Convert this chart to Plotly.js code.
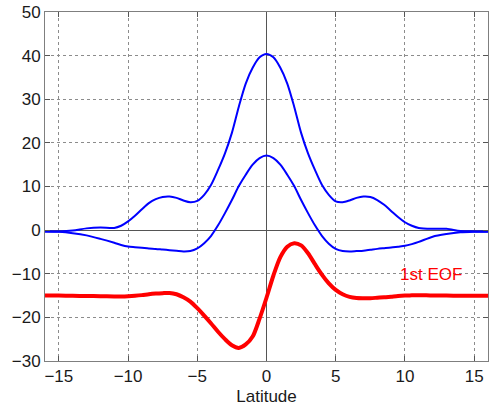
<!DOCTYPE html>
<html>
<head>
<meta charset="utf-8">
<script src="https://cdn.plot.ly/plotly-3.0.1.min.js"></script>
<style>html,body{margin:0;padding:0;background:#fff;}#chart{width:489px;height:406px;}</style>
</head>
<body>
<div id="chart"></div>
<script>
// Latitude samples
const latitude = [-16,-15,-14,-13,-12,-11,-10.5,-10,-9.5,-9,-8.5,-8,-7.5,-7,-6.5,-6,-5.5,-5,-4.5,-4,-3.5,-3,-2.5,-2,-1.5,-1,-0.5,0,
                  0.5,1,1.5,2,2.5,3,3.5,4,4.5,5,5.5,6,6.5,7,7.5,8,8.5,9,9.5,10,10.5,11,12,13,14,15,16];

// Upper blue curve
const upperBlue = [-0.3,-0.3,-0.1,0.4,0.6,0.5,1.0,2.0,3.3,4.8,6.2,7.1,7.6,7.7,7.4,6.8,6.4,6.7,8.1,10.4,13.8,17.6,22.3,28.3,33.6,37.2,39.6,40.4,
                   39.6,37.2,33.6,28.3,22.3,17.6,13.8,10.4,8.1,6.6,6.4,6.8,7.4,7.7,7.6,6.9,5.8,4.4,3.0,1.8,1.0,0.5,0.3,0.3,-0.2,-0.3,-0.35];

// Lower blue curve
const lowerBlue = [-0.3,-0.4,-0.7,-1.2,-2.0,-2.9,-3.4,-3.75,-3.9,-4.05,-4.2,-4.3,-4.45,-4.6,-4.75,-4.9,-4.8,-4.2,-3.0,-1.3,1.1,3.9,6.9,10.1,12.7,15.0,16.5,17.1,
                   16.5,15.0,12.7,10.1,6.9,3.9,1.1,-1.3,-3.1,-4.3,-4.8,-4.9,-4.8,-4.7,-4.5,-4.3,-4.15,-4.0,-3.8,-3.6,-3.2,-2.7,-1.5,-0.9,-0.5,-0.35,-0.3];

// First EOF (red)
const firstEOF = [-15.0,-15.0,-15.05,-15.1,-15.15,-15.2,-15.2,-15.15,-15.05,-14.9,-14.7,-14.55,-14.45,-14.4,-14.7,-15.4,-16.4,-17.9,-19.6,-21.4,-23.3,-25.0,-26.4,-27.0,-26.2,-24.4,-20.3,-15.5,
                  -10.4,-6.2,-3.8,-3.0,-3.5,-5.3,-7.8,-10.2,-12.2,-13.7,-14.7,-15.3,-15.55,-15.6,-15.6,-15.5,-15.4,-15.25,-15.1,-15.0,-14.95,-14.9,-15.0,-15.0,-15.05,-15.05,-15.05];

const xTicks = [-15,-10,-5,0,5,10,15];
const yTicks = [-30,-20,-10,0,10,20,30,40,50];
const eofLabel = {text: '1st EOF', x: 11.85, y: -10.1};

const font = {family: 'Liberation Sans, Arial, sans-serif', size: 17, color: '#1a1a1a'};

const traces = [
  {x: latitude, y: upperBlue, mode: 'lines', line: {color: '#0000ff', width: 2, shape: 'spline', smoothing: 0.8}, hoverinfo: 'skip'},
  {x: latitude, y: lowerBlue, mode: 'lines', line: {color: '#0000ff', width: 2, shape: 'spline', smoothing: 0.8}, hoverinfo: 'skip'},
  {x: latitude, y: firstEOF, mode: 'lines', line: {color: '#ff0000', width: 4, shape: 'spline', smoothing: 0.8}, hoverinfo: 'skip'}
];

const axisCommon = {
  showline: true, linecolor: '#7f7f7f', linewidth: 1, mirror: 'ticks',
  ticks: 'inside', ticklen: 5, tickcolor: '#555', tickwidth: 1,
  showgrid: true, gridcolor: '#8c8c8c', gridwidth: 1, griddash: 'dot',
  zeroline: true, zerolinecolor: '#555', zerolinewidth: 1,
  tickfont: font, fixedrange: true
};

const layout = {
  width: 489, height: 406,
  margin: {l: 45, r: 1, t: 12, b: 45},
  paper_bgcolor: '#fff', plot_bgcolor: '#fff',
  showlegend: false,
  font: font,
  xaxis: Object.assign({}, axisCommon, {
    range: [-16, 16], tickvals: xTicks, ticktext: xTicks.map(v => v < 0 ? '\u2212' + Math.abs(v) : String(v)),
    title: {text: 'Latitude', font: font, standoff: 4}
  }),
  yaxis: Object.assign({}, axisCommon, {
    range: [-30, 50], tickvals: yTicks, ticktext: yTicks.map(v => v < 0 ? '\u2212' + Math.abs(v) : String(v))
  }),
  annotations: [{
    text: eofLabel.text, x: eofLabel.x, y: eofLabel.y, xref: 'x', yref: 'y',
    showarrow: false, font: {family: font.family, size: 17, color: '#ff0000'}
  }]
};

Plotly.newPlot('chart', traces, layout, {displayModeBar: false, staticPlot: true});
</script>
</body>
</html>
